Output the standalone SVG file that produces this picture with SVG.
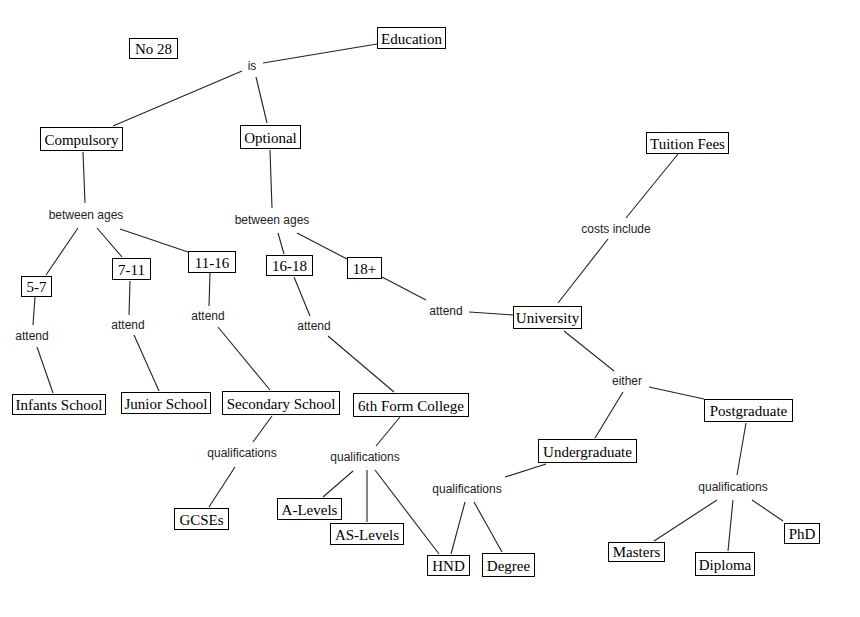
<svg xmlns="http://www.w3.org/2000/svg" width="860" height="617" viewBox="0 0 860 617">
<style>
.bx{fill:#fff;stroke:#000;stroke-width:1}
.bt{font-family:"Liberation Serif","Times New Roman",serif;font-size:15px;fill:#000;text-anchor:middle}
.lt{font-family:"Liberation Sans",Arial,sans-serif;font-size:12px;fill:#222;text-anchor:middle}
.cn line{stroke:#222;stroke-width:1.1}
</style>
<rect width="860" height="617" fill="#fff"/>
<g class="cn" id="connectors">
<line x1="377" y1="44" x2="263" y2="63"/>
<line x1="242" y1="71" x2="113" y2="126"/>
<line x1="256" y1="77" x2="267" y2="123"/>
<line x1="83" y1="152" x2="85" y2="203"/>
<line x1="270" y1="150" x2="272" y2="208"/>
<line x1="78" y1="228" x2="46" y2="275"/>
<line x1="97" y1="228" x2="122" y2="257"/>
<line x1="120" y1="229" x2="188" y2="252"/>
<line x1="278" y1="233" x2="284" y2="254"/>
<line x1="297" y1="233" x2="347" y2="259"/>
<line x1="35" y1="297" x2="33" y2="325"/>
<line x1="37" y1="347" x2="53" y2="393"/>
<line x1="130" y1="281" x2="129" y2="315"/>
<line x1="134" y1="335" x2="159" y2="391"/>
<line x1="210" y1="273" x2="209" y2="306"/>
<line x1="218" y1="327" x2="270" y2="390"/>
<line x1="294" y1="277" x2="310" y2="316"/>
<line x1="328" y1="336" x2="394" y2="392"/>
<line x1="382" y1="277" x2="426" y2="300"/>
<line x1="469" y1="312" x2="513" y2="315"/>
<line x1="558" y1="303" x2="608" y2="239"/>
<line x1="626" y1="218" x2="678" y2="154"/>
<line x1="564" y1="331" x2="614" y2="371"/>
<line x1="649" y1="387" x2="704" y2="399"/>
<line x1="623" y1="392" x2="595" y2="438"/>
<line x1="746" y1="423" x2="737" y2="475"/>
<line x1="717" y1="500" x2="654" y2="541"/>
<line x1="733" y1="500" x2="728" y2="551"/>
<line x1="752" y1="500" x2="783" y2="521"/>
<line x1="546" y1="464" x2="505" y2="477"/>
<line x1="465" y1="502" x2="451" y2="554"/>
<line x1="474" y1="502" x2="502" y2="552"/>
<line x1="400" y1="417" x2="376" y2="446"/>
<line x1="353" y1="471" x2="323" y2="497"/>
<line x1="367" y1="470" x2="367" y2="522"/>
<line x1="375" y1="470" x2="439" y2="554"/>
<line x1="272" y1="416" x2="253" y2="442"/>
<line x1="235" y1="467" x2="209" y2="507"/>
</g>
<g id="no28"><rect class="bx" x="129.5" y="38.5" width="48" height="20"/><text class="bt" x="153.5" y="53.5">No 28</text></g>
<g id="education"><rect class="bx" x="377.5" y="27.5" width="68" height="21"/><text class="bt" x="411.5" y="43.5">Education</text></g>
<g id="compulsory"><rect class="bx" x="40.5" y="127.5" width="82" height="23"/><text class="bt" x="81.5" y="144.5">Compulsory</text></g>
<g id="optional"><rect class="bx" x="240.5" y="125.5" width="60" height="23"/><text class="bt" x="270.5" y="142.5">Optional</text></g>
<g id="a5-7"><rect class="bx" x="21.5" y="276.5" width="30" height="20"/><text class="bt" x="36.5" y="291.5">5-7</text></g>
<g id="a7-11"><rect class="bx" x="112.5" y="258.5" width="38" height="21"/><text class="bt" x="131.5" y="274.5">7-11</text></g>
<g id="a11-16"><rect class="bx" x="188.5" y="251.5" width="47" height="21"/><text class="bt" x="212" y="267.5">11-16</text></g>
<g id="a16-18"><rect class="bx" x="266.5" y="255.5" width="46" height="20"/><text class="bt" x="289.5" y="270.5">16-18</text></g>
<g id="a18plus"><rect class="bx" x="347.5" y="257.5" width="34" height="21"/><text class="bt" x="364.5" y="273.5">18+</text></g>
<g id="infants"><rect class="bx" x="12.5" y="394.5" width="93" height="20"/><text class="bt" x="59" y="409.5">Infants School</text></g>
<g id="junior"><rect class="bx" x="121.5" y="392.5" width="89" height="21"/><text class="bt" x="166" y="408.5">Junior School</text></g>
<g id="secondary"><rect class="bx" x="222.5" y="391.5" width="117" height="23"/><text class="bt" x="281" y="408.5">Secondary School</text></g>
<g id="sixthform"><rect class="bx" x="353.5" y="393.5" width="115" height="23"/><text class="bt" x="411" y="410.5">6th Form College</text></g>
<g id="tuition"><rect class="bx" x="646.5" y="132.5" width="82" height="21"/><text class="bt" x="687.5" y="148.5">Tuition Fees</text></g>
<g id="university"><rect class="bx" x="513.5" y="306.5" width="68" height="22"/><text class="bt" x="547.5" y="322.5">University</text></g>
<g id="postgraduate"><rect class="bx" x="704.5" y="399.5" width="88" height="22"/><text class="bt" x="748.5" y="415.5">Postgraduate</text></g>
<g id="undergraduate"><rect class="bx" x="538.5" y="439.5" width="98" height="23"/><text class="bt" x="587.5" y="456.5">Undergraduate</text></g>
<g id="gcses"><rect class="bx" x="174.5" y="508.5" width="54" height="21"/><text class="bt" x="201.5" y="524.5">GCSEs</text></g>
<g id="alevels"><rect class="bx" x="277.5" y="498.5" width="64" height="21"/><text class="bt" x="309.5" y="514.5">A-Levels</text></g>
<g id="aslevels"><rect class="bx" x="330.5" y="523.5" width="73" height="21"/><text class="bt" x="367" y="539.5">AS-Levels</text></g>
<g id="hnd"><rect class="bx" x="427.5" y="555.5" width="42" height="20"/><text class="bt" x="448.5" y="570.5">HND</text></g>
<g id="degree"><rect class="bx" x="482.5" y="553.5" width="52" height="23"/><text class="bt" x="508.5" y="570.5">Degree</text></g>
<g id="masters"><rect class="bx" x="608.5" y="542.5" width="56" height="19"/><text class="bt" x="636.5" y="556.5">Masters</text></g>
<g id="diploma"><rect class="bx" x="695.5" y="552.5" width="59" height="23"/><text class="bt" x="725" y="569.5">Diploma</text></g>
<g id="phd"><rect class="bx" x="784.5" y="523.5" width="35" height="20"/><text class="bt" x="802" y="538.5">PhD</text></g>
<g id="lbl-is"><text class="lt" x="252" y="70">is</text></g>
<g id="lbl-between1"><text class="lt" x="86" y="219">between ages</text></g>
<g id="lbl-between2"><text class="lt" x="272" y="224">between ages</text></g>
<g id="lbl-attend1"><text class="lt" x="32" y="340">attend</text></g>
<g id="lbl-attend2"><text class="lt" x="128" y="329">attend</text></g>
<g id="lbl-attend3"><text class="lt" x="208" y="320">attend</text></g>
<g id="lbl-attend4"><text class="lt" x="314" y="330">attend</text></g>
<g id="lbl-attend5"><text class="lt" x="446" y="315">attend</text></g>
<g id="lbl-costs"><text class="lt" x="616" y="233">costs include</text></g>
<g id="lbl-either"><text class="lt" x="627" y="385">either</text></g>
<g id="lbl-qual1"><text class="lt" x="242" y="457">qualifications</text></g>
<g id="lbl-qual2"><text class="lt" x="365" y="461">qualifications</text></g>
<g id="lbl-qual3"><text class="lt" x="467" y="493">qualifications</text></g>
<g id="lbl-qual4"><text class="lt" x="733" y="491">qualifications</text></g>
</svg>
